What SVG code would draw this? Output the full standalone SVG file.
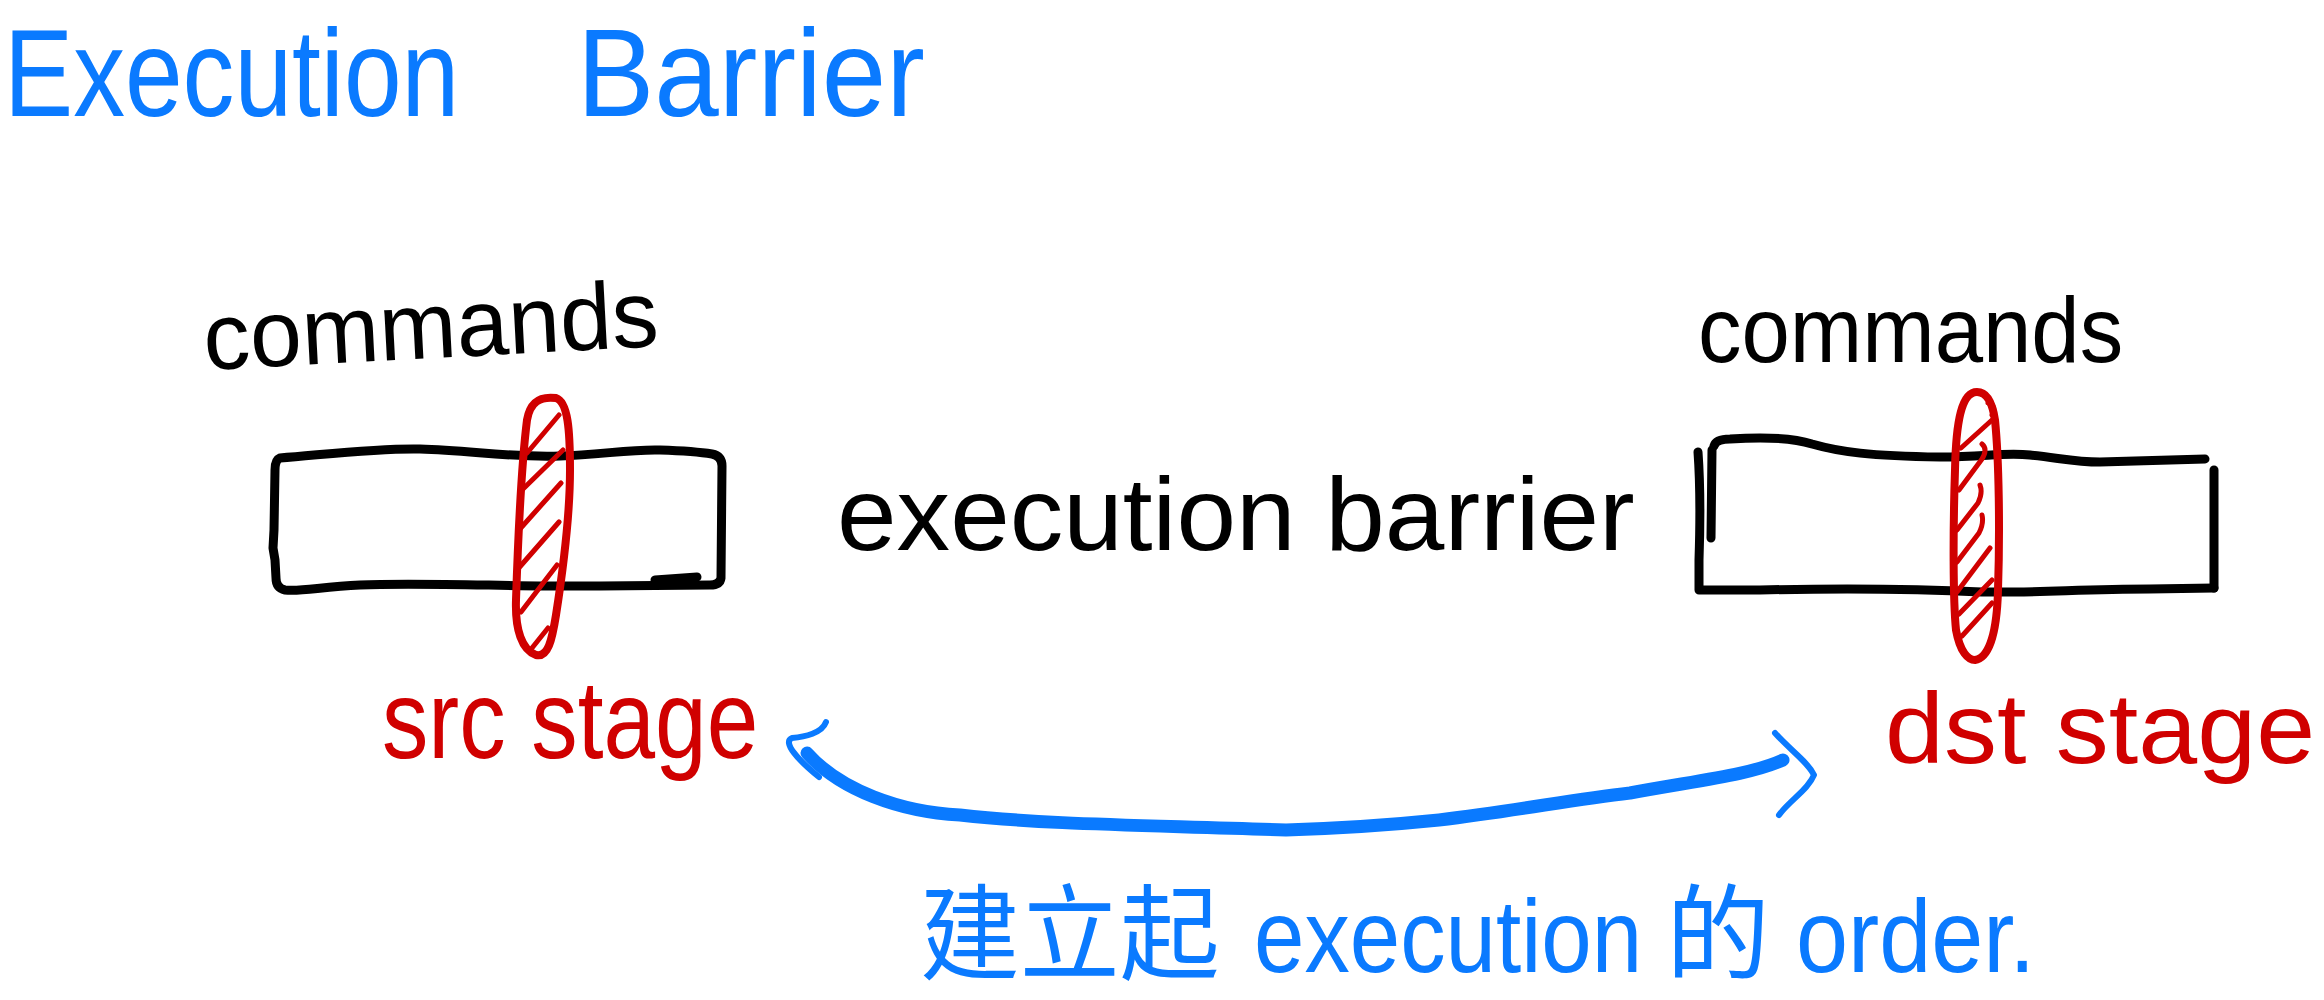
<svg xmlns="http://www.w3.org/2000/svg" width="2324" height="1000" viewBox="0 0 2324 1000">
  <style>
    .ink { fill: none; stroke-linecap: round; stroke-linejoin: round; }
    .black { stroke: #000000; }
    .red { stroke: #D00000; }
    .blue { stroke: #0A7AFF; }
    .box { stroke-width: 9; }
    .band { stroke-width: 8; }
    .hatch { stroke-width: 5; }
    .txt { font-family: "Liberation Sans", "Noto Sans CJK SC", sans-serif; }
    .t-black { fill: #000000; }
    .t-red { fill: #D00000; }
    .t-blue { fill: #0A7AFF; }
  </style>

  <rect width="2324" height="1000" fill="#FFFFFF"/>

  <!-- heading -->
  <g id="title">
    <text class="txt t-blue" x="0" y="0" font-size="124" transform="translate(4 116) scale(0.836 1)">Execution</text>
    <text class="txt t-blue" x="0" y="0" font-size="124" transform="translate(577 116) scale(0.935 1)">Barrier</text>
  </g>

  <!-- source command stream -->
  <g id="src-commands">
    <text class="txt t-black" x="0" y="0" font-size="95" transform="translate(205 370) rotate(-3) scale(0.98 1)">commands</text>
    <path class="ink black box" d="M280,458 C330,454 380,448 420,449 C470,450 510,458 560,456 C600,455 630,449 660,450 C690,451 700,452 712,454 Q722,456 722,466 L721,578 Q720,585 710,585 L600,586 C520,587 420,582 360,585 C320,587 300,592 285,590 Q276,588 276,578 L275,560 L273,548 L274,530 L275,470 Q275,460 280,458 Z"/>
    <path class="ink black box" d="M655,580 L697,577"/>
  </g>

  <!-- source stage band -->
  <g id="src-stage-band">
    <path class="ink red band" d="M556,398 C540,396 530,402 527,420 C522,460 518,540 516,600 C515,630 522,650 536,655 C548,658 552,640 556,615 C563,570 570,520 570,470 C570,430 568,402 556,398 Z"/>
    <path class="ink red hatch" d="M559,415 L527,453 M563,450 L523,489 M561,483 L519,530 M559,522 L517,570 M557,565 L521,612 M548,628 L532,648"/>
  </g>

  <g id="src-stage-label">
    <text class="txt t-red" x="0" y="0" font-size="112" transform="translate(382 758) scale(0.828 1)">src stage</text>
  </g>

  <!-- barrier label between the streams -->
  <g id="barrier-label">
    <text class="txt t-black" x="0" y="0" font-size="104" transform="translate(837 550) scale(1.03 1)">execution barrier</text>
  </g>

  <!-- destination command stream -->
  <g id="dst-commands">
    <text class="txt t-black" x="0" y="0" font-size="92" transform="translate(1698 362) scale(0.945 1)">commands</text>
    <path class="ink black box" d="M1698,452 C1700,480 1700,530 1699,560 L1699,590 L1760,590 C1850,588 1920,589 1982,592 C2040,593 2080,589 2150,589 L2214,588"/>
    <path class="ink black box" d="M1712,450 L1711,538"/>
    <path class="ink black box" d="M1714,446 Q1716,439 1730,439 C1760,437 1790,437 1812,444 C1840,452 1870,456 1940,457 C1985,457 2005,452 2030,455 C2060,458 2075,462 2100,462 L2205,459"/>
    <path class="ink black box" d="M2214,470 L2214,588"/>
  </g>

  <!-- destination stage band -->
  <g id="dst-stage-band">
    <path class="ink red band" d="M1977,392 C1962,392 1956,420 1955,470 C1953,530 1953,600 1956,630 C1960,652 1968,660 1975,660 C1990,658 1997,630 1998,590 C2000,530 1999,460 1995,420 C1992,400 1985,392 1977,392 Z"/>
    <path class="ink red hatch" d="M1988,403 q9,3 4,12 M1992,420 L1961,448 M1982,444 q6,5 0,15 L1959,490 M1980,485 q3,8 -2,18 L1957,530 M1982,515 q2,8 -3,18 L1957,562 M1990,548 L1957,592 M1992,580 L1959,614 M1992,603 L1962,636"/>
  </g>

  <g id="dst-stage-label">
    <text class="txt t-red" x="0" y="0" font-size="100" transform="translate(1885 763) scale(1.06 1)">dst stage</text>
  </g>

  <!-- ordering arrow between the two stages -->
  <g id="connectors">
    <path class="ink blue" stroke-width="13" d="M807,753 C840,790 900,812 960,815 C1050,825 1150,825 1286,830 C1350,828 1400,824 1439,820 C1520,810 1570,800 1630,793 C1700,780 1750,775 1783,760"/>
    <path class="ink blue" stroke-width="6" d="M826,722 C822,733 805,737 792,738 C782,742 798,760 819,777"/>
    <path class="ink blue" stroke-width="6" d="M1775,733 C1790,750 1808,762 1814,775 C1808,790 1790,800 1779,815"/>
  </g>

  <!-- caption -->
  <g id="caption">
    <text class="txt t-blue" x="0" y="0" font-size="104" transform="translate(920 972) scale(0.96 1)">建立起</text>
    <text class="txt t-blue" x="0" y="0" font-size="104" transform="translate(1254 972) scale(0.872 1)">execution</text>
    <text class="txt t-blue" x="0" y="0" font-size="104" transform="translate(1666 972)">的</text>
    <text class="txt t-blue" x="0" y="0" font-size="104" transform="translate(1796 972) scale(0.9 1)">order.</text>
  </g>
</svg>
